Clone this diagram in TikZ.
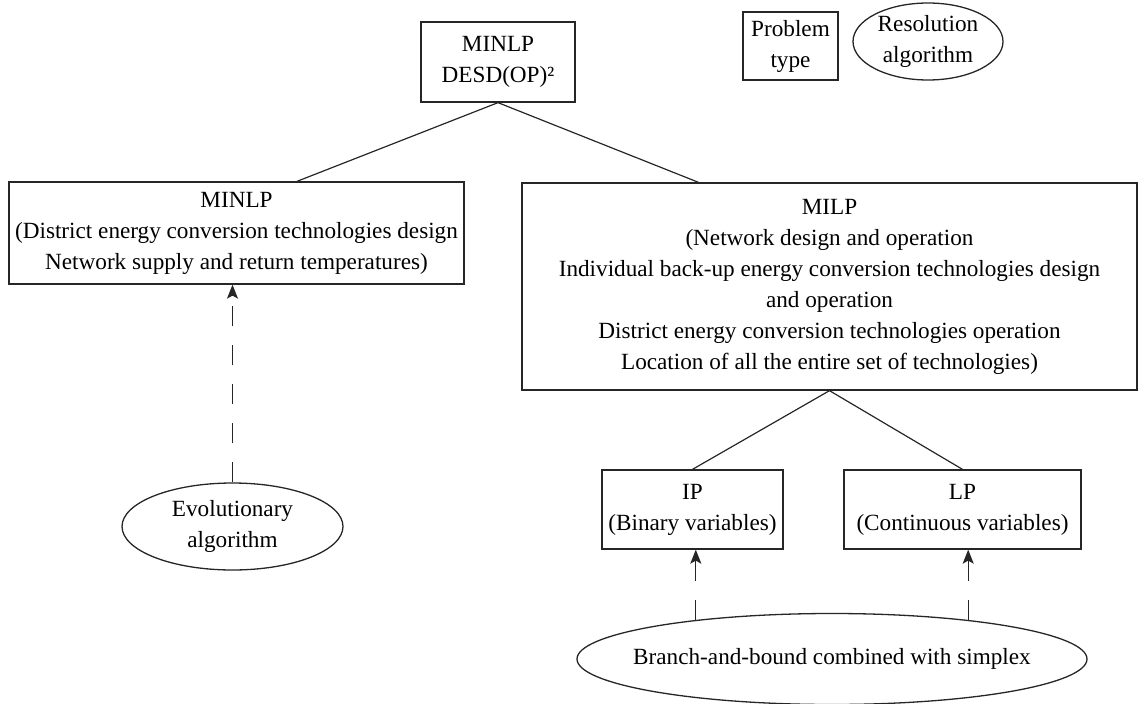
\documentclass[tikz,border=0pt]{standalone}
\usepackage{fontspec}
\setmainfont{Liberation Serif}
\usetikzlibrary{shapes.geometric,arrows.meta}
\begin{document}
\begin{tikzpicture}[x=1pt,y=-1pt,
  every node/.style={font=\fontsize{23.2}{31}\selectfont, align=center, inner sep=0pt, text=black},
  ptype/.style={draw=black!85, line width=1.3pt, rectangle},
  ralgo/.style={draw=black!85, line width=1.3pt, ellipse},
  link/.style={draw=black!85, line width=1.2pt},
  uses/.style={draw=black!85, line width=1.2pt, dash pattern=on 20pt off 19pt,
    -{Stealth[length=14pt,width=11pt,inset=3pt]}}]
\useasboundingbox (0,0) rectangle (1141,704);
% problem types
\node[ptype, minimum width=154pt, minimum height=80pt] (top) at (498,62) {MINLP\\DESD(OP)²};
\node[ptype, minimum width=455pt, minimum height=102pt] (left) at (236.5,233) {MINLP\\(District energy conversion technologies design\\Network supply and return temperatures)};
\node[ptype, minimum width=615pt, minimum height=207pt] (right) at (829.5,286.5) {MILP\\(Network design and operation\\Individual back-up energy conversion technologies design\\and operation\\District energy conversion technologies operation\\Location of all the entire set of technologies)};
\node[ptype, minimum width=181pt, minimum height=79pt] (IP) at (692.5,509.5) {IP\\(Binary variables)};
\node[ptype, minimum width=237pt, minimum height=79pt] (LP) at (962.5,509.5) {LP\\(Continuous variables)};
% resolution algorithms
\node[ralgo, minimum width=221pt, minimum height=87pt] (evo) at (232.5,526.5) {Evolutionary\\algorithm};
\node[ralgo, minimum width=510pt, minimum height=91pt, inner xsep=-30pt] (bb) at (832,659) {Branch-and-bound combined with simplex};
% legend
\node[ptype, minimum width=95pt, minimum height=68pt] (legbox) at (790.5,46) {Problem\\type};
\node[ralgo, minimum width=150pt, minimum height=77pt, inner xsep=-3pt] (legell) at (928,41.5) {Resolution\\algorithm};
% connectors
\draw[link] (top.south) -- ([xshift=60.5pt]left.north);
\draw[link] (top.south) -- ([xshift=-131pt]right.north);
\draw[link] (right.south) -- (IP.north);
\draw[link] (right.south) -- (LP.north);
\draw[uses] (evo.north) -- (evo.north |- left.south);
\draw[uses] (bb.164.7) -- (bb.164.7 |- IP.south);
\draw[uses] (bb.16.74) -- (bb.16.74 |- LP.south);
\end{tikzpicture}
\end{document}
